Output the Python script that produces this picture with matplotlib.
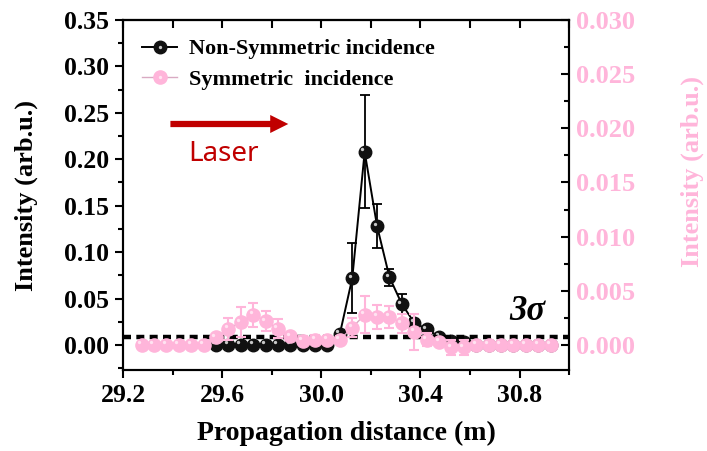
import numpy as np
import matplotlib
matplotlib.use("Agg")
import matplotlib.pyplot as plt
import matplotlib.transforms as mtransforms
from matplotlib.legend_handler import HandlerTuple
from matplotlib.ticker import MultipleLocator

plt.rcParams['font.family'] = ['Liberation Serif', 'DejaVu Serif']
plt.rcParams['font.weight'] = 'bold'

# positions (m)
x_sym = np.round(np.arange(29.275, 30.93, 0.05), 3)
x_non = np.round(np.arange(29.575, 30.93, 0.05), 3)

# non-symmetric incidence (left axis)
y_non = [0, 0, 0, 0, 0, 0, 0, 0, 0, 0, 0.012, 0.072, 0.208, 0.128, 0.073,
         0.044, 0.024, 0.017, 0.009, 0.004, 0.003, 0, 0, 0, 0, 0, 0, 0]
e_non = [0, 0, 0, 0, 0, 0, 0, 0, 0, 0, 0.003, 0.038, 0.061, 0.024, 0.009,
         0.011, 0.004, 0.003, 0.003, 0.003, 0.002, 0, 0, 0, 0, 0, 0, 0]

# symmetric incidence (right axis)
y_sym = [0, 0, 0, 0, 0, 0, 0.0007, 0.0015, 0.0021, 0.0028, 0.0022, 0.0015,
         0.0008, 0.0004, 0.0005, 0.0005, 0.0005, 0.0016, 0.0028, 0.0026, 0.0026,
         0.0020, 0.0012, 0.0005, 0.0003, -0.0002, -0.0002, 0, 0, 0, 0, 0, 0, 0]
e_sym = [0, 0, 0, 0, 0, 0, 0.0002, 0.001, 0.0014, 0.0011, 0.0009, 0.0009,
         0.0002, 0.0004, 0.0004, 0.0003, 0.0003, 0.0009, 0.0017, 0.0011, 0.001,
         0.0009, 0.0017, 0.0006, 0.0002, 0.0007, 0.0007, 0, 0, 0, 0, 0, 0, 0]

threshold = 0.009
pink = '#FFB5DA'
red = '#C00000'

fig = plt.figure(figsize=(7.07, 4.51), dpi=100)
ax = fig.add_axes([0.174, 0.1796, 0.631, 0.776])
ax2 = ax.twinx()

ymin, ymax = -0.027, 0.35
ax.set_xlim(29.2, 31.0)
ax.set_ylim(ymin, ymax)
ax2.set_ylim(ymin * 0.03 / 0.35, 0.03)

# small offset highlight to fake the shaded balls
hl = mtransforms.offset_copy(ax.transData, fig=fig, x=-2.5, y=2.5, units='dots')
hl2 = mtransforms.offset_copy(ax2.transData, fig=fig, x=-2.5, y=2.5, units='dots')

# black series
ax.errorbar(x_non, y_non, yerr=e_non, color='black', lw=1.4, capsize=3.5,
            elinewidth=1.3, capthick=1.3, zorder=3, fmt='none')
l1, = ax.plot(x_non, y_non, color='black', lw=1.4, marker='o', ms=9,
              mfc='#111111', mec='#111111', zorder=4)
h1, = ax.plot(x_non, y_non, ls='none', marker='o', ms=2.4, mfc='#c8c8c8',
              mec='none', transform=hl, zorder=5)

ax.axhline(threshold, color='black', ls=(0, (1.8, 1.2)), lw=3.2, zorder=6)

# pink series
ax2.errorbar(x_sym, y_sym, yerr=e_sym, color=pink, capsize=3.5,
             elinewidth=1.5, capthick=1.5, zorder=3, fmt='none')
l2, = ax2.plot(x_sym, y_sym, color='#d9aac2', lw=1.0, marker='o', ms=9.5,
               mfc=pink, mec=pink, zorder=4)
h2, = ax2.plot(x_sym, y_sym, ls='none', marker='o', ms=2.4, mfc='#ffe3f1',
               mec='none', transform=hl2, zorder=5)

# axes styling
for a in (ax, ax2):
    for s in a.spines.values():
        s.set_linewidth(1.5)
ax.xaxis.set_major_locator(MultipleLocator(0.4))
ax.xaxis.set_minor_locator(MultipleLocator(0.2))
ax.yaxis.set_major_locator(MultipleLocator(0.05))
ax.yaxis.set_minor_locator(MultipleLocator(0.025))
ax2.yaxis.set_major_locator(MultipleLocator(0.005))
ax2.yaxis.set_minor_locator(MultipleLocator(0.0025))
ax.tick_params(which='major', direction='out', length=6, width=1.5, labelsize=18.5, pad=4)
ax.tick_params(which='minor', direction='out', length=3.5, width=1.5)
ax2.tick_params(which='major', direction='in', length=6, width=1.5, labelsize=19,
                labelcolor=pink, pad=5)
ax2.tick_params(which='minor', direction='in', length=3.5, width=1.5)
ax.yaxis.set_major_formatter(plt.FuncFormatter(lambda v, p: f'{v:.2f}'))
ax2.yaxis.set_major_formatter(plt.FuncFormatter(lambda v, p: f'{v:.3f}'))
ax.xaxis.set_major_formatter(plt.FuncFormatter(lambda v, p: f'{v:.1f}'))

top = ax.secondary_xaxis('top')
top.xaxis.set_major_locator(MultipleLocator(0.2))
top.tick_params(direction='in', length=6, width=1.5, labeltop=False)
top.spines['top'].set_linewidth(1.5)

ax.set_xlabel('Propagation distance (m)', fontsize=20, fontweight='bold', labelpad=10)
ax.set_ylabel('Intensity (arb.u.)', fontsize=19, fontweight='bold', labelpad=19)
ax2.set_ylabel('Intensity (arb.u.)', fontsize=19, fontweight='bold', color=pink)
ax2.yaxis.set_label_coords(1.249, 0.566)

ax.legend([(l1, h1), (l2, h2)], ['Non-Symmetric incidence', 'Symmetric  incidence'],
          handler_map={tuple: HandlerTuple(ndivide=1, pad=0)},
          loc='upper left', bbox_to_anchor=(0.0, 1.0), frameon=False,
          prop={'family': 'Liberation Serif', 'weight': 'bold', 'size': 16},
          handlelength=1.6, handletextpad=0.5, labelspacing=0.45, borderaxespad=0.45)

# laser arrow
ax.annotate('', xy=(29.878, 0.238), xytext=(29.38, 0.238),
            arrowprops=dict(arrowstyle='simple,head_length=1.3,head_width=1.3,tail_width=0.45',
                            color=red, lw=0))
ax.text(29.605, 0.206, 'Laser', color=red, fontsize=20, fontweight='normal',
        family=['Noto Sans', 'DejaVu Sans'], ha='center', va='center')
ax.text(30.832, 0.0355, '3σ', fontsize=25, fontweight='bold', style='italic',
        ha='center', va='center')

fig.savefig('out.png', dpi=100)
